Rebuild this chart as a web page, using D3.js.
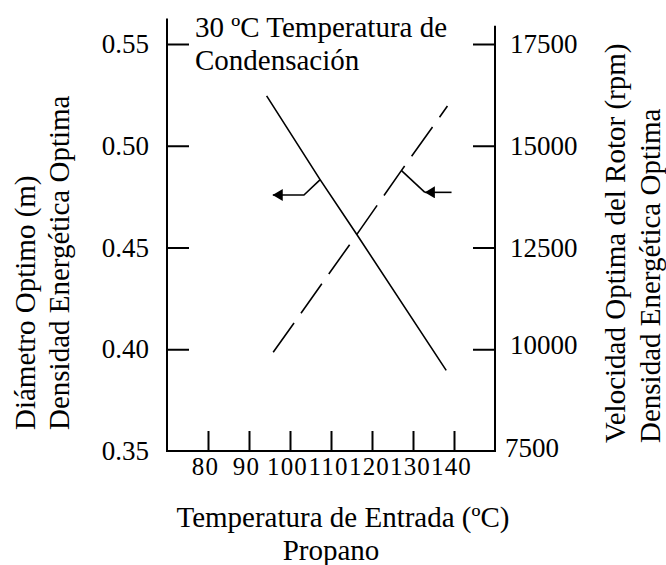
<!DOCTYPE html>
<html>
<head>
<meta charset="utf-8">
<script src="https://cdn.jsdelivr.net/npm/d3@7"></script>
<style>
  html, body { margin: 0; padding: 0; background: #fff; }
  svg { display: block; }
  text { font-family: "Liberation Serif", "Times New Roman", serif; fill: #000; }
</style>
</head>
<body>
<svg id="chart" width="666" height="565"></svg>
<script>
// ---- data ----
const xTickValues = [80, 90, 100, 110, 120, 130, 140];
const leftTickValues = [0.35, 0.40, 0.45, 0.50, 0.55];
const leftTickLabels = ["0.35", "0.40", "0.45", "0.50", "0.55"];
const rightTickValues = [7500, 10000, 12500, 15000, 17500];
const rightTickLabels = ["7500", "10000", "12500", "15000", "17500"];

// Diámetro óptimo (left axis, solid)
const diameterTemp = [94.3, 107.3, 116.3, 138.1];
const diameterValues = [0.5245, 0.4835, 0.4564, 0.3896];

// Velocidad óptima del rotor (right axis, dashed)
const speedTemp = [95.9, 114.9, 127.2, 138.4];
const speedValues = [9925, 12620, 14395, 15975];

// Arrow pointers (junction, kink, end)
const leftArrowTemp = [107.3, 103.4, 95.8];
const leftArrowValues = [0.4832, 0.4758, 0.4758];
const rightArrowTemp = [127.2, 132.9, 139.4];
const rightArrowValues = [14390, 13855, 13855];

const titleLines = ["30 ºC Temperatura de", "Condensación"];
const xTitleLines = ["Temperatura de Entrada (ºC)", "Propano"];
const leftTitleLines = ["Diámetro Optimo (m)", "Densidad Energética Optima"];
const rightTitleLines = ["Velocidad Optima del Rotor (rpm)", "Densidad Energética Optima"];

// ---- layout ----
const SERIF = '"Liberation Serif", "Times New Roman", serif';
const svg = d3.select("#chart");
const plotLeft = 167, plotRight = 495, plotBottom = 451, plotTop = 44;

const x = d3.scaleLinear().domain([70, 150]).range([plotLeft, plotRight]);
const yL = d3.scaleLinear().domain([0.35, 0.55]).range([plotBottom, plotTop]);
const yR = d3.scaleLinear().domain([7500, 17500]).range([plotBottom, plotTop]);

// axis frame lines (extend above the top ticks)
svg.append("line")
  .attr("x1", x(70)).attr("x2", x(70))
  .attr("y1", yL(0.5625)).attr("y2", yL(0.35))
  .attr("stroke", "#000").attr("stroke-width", 2);
svg.append("line")
  .attr("x1", x(150)).attr("x2", x(150))
  .attr("y1", yR(17950)).attr("y2", yR(7500))
  .attr("stroke", "#000").attr("stroke-width", 2);
svg.append("line")
  .attr("x1", x(70) - 1).attr("x2", x(150) + 1)
  .attr("y1", yL(0.35)).attr("y2", yL(0.35))
  .attr("stroke", "#000").attr("stroke-width", 2);

// left axis
const gL = svg.append("g").attr("transform", `translate(${plotLeft},0)`)
  .call(d3.axisLeft(yL).tickValues(leftTickValues)
    .tickFormat((d, i) => leftTickLabels[i])
    .tickSizeInner(-22).tickSizeOuter(0).tickPadding(18));
gL.select(".domain").remove();
gL.selectAll(".tick").filter(d => d === 0.35).select("line").remove();
gL.selectAll("line").attr("stroke", "#000").attr("stroke-width", 2);
gL.selectAll("text").style("font-family", SERIF).style("font-size", "27px");

// right axis
const gR = svg.append("g").attr("transform", `translate(${plotRight},0)`)
  .call(d3.axisRight(yR).tickValues(rightTickValues)
    .tickFormat((d, i) => rightTickLabels[i])
    .tickSizeInner(-22).tickSizeOuter(0).tickPadding(15));
gR.select(".domain").remove();
gR.selectAll(".tick").filter(d => d === 7500).select("line").remove();
gR.selectAll(".tick").filter(d => d === 7500).select("text").attr("x", 10).attr("dy", "0.2em");
gR.selectAll(".tick").filter(d => d === 10000).select("text").attr("dy", "0.15em");
gR.selectAll("line").attr("stroke", "#000").attr("stroke-width", 2);
gR.selectAll("text").style("font-family", SERIF).style("font-size", "27px");

// bottom axis
const gX = svg.append("g").attr("transform", `translate(0,${plotBottom})`)
  .call(d3.axisBottom(x).tickValues(xTickValues).tickSizeInner(-20).tickSizeOuter(0));
gX.select(".domain").remove();
gX.selectAll("line").attr("stroke", "#000").attr("stroke-width", 2);
gX.selectAll("text")
  .style("font-family", SERIF).style("font-size", "25px").style("letter-spacing", "1.2px")
  .attr("y", 24).attr("dy", null).attr("dx", -3);

// data lines
const lineL = d3.line().x(d => x(d[0])).y(d => yL(d[1]));
const lineR = d3.line().x(d => x(d[0])).y(d => yR(d[1]));

svg.append("path")
  .datum(diameterTemp.map((t, i) => [t, diameterValues[i]]))
  .attr("d", lineL).attr("fill", "none").attr("stroke", "#000").attr("stroke-width", 1.6);

svg.append("path")
  .datum(speedTemp.map((t, i) => [t, speedValues[i]]))
  .attr("d", lineR).attr("fill", "none").attr("stroke", "#000").attr("stroke-width", 1.6)
  .attr("stroke-dasharray", "36,12");

// arrowhead marker
svg.append("defs").append("marker")
  .attr("id", "arrow").attr("markerUnits", "userSpaceOnUse")
  .attr("viewBox", "0 -6 10 12").attr("refX", 10).attr("refY", 0)
  .attr("markerWidth", 10).attr("markerHeight", 12).attr("orient", "auto")
  .append("path").attr("d", "M0,-6L10,0L0,6Z").attr("fill", "#000");

// left pointer
const lp = leftArrowTemp.map((t, i) => [t, leftArrowValues[i]]);
svg.append("path").datum(lp).attr("d", lineL)
  .attr("fill", "none").attr("stroke", "#000").attr("stroke-width", 1.6)
  .attr("marker-end", "url(#arrow)");

// right pointer
const rp = rightArrowTemp.map((t, i) => [t, rightArrowValues[i]]);
svg.append("path").datum([rp[0], rp[1]]).attr("d", lineR)
  .attr("fill", "none").attr("stroke", "#000").attr("stroke-width", 1.6);
svg.append("path").datum([rp[2], rp[1]]).attr("d", lineR)
  .attr("fill", "none").attr("stroke", "#000").attr("stroke-width", 1.6)
  .attr("marker-end", "url(#arrow)");

// in-plot title
svg.append("text").attr("x", 195).attr("y", 37).attr("font-size", 29).text(titleLines[0]);
svg.append("text").attr("x", 195).attr("y", 70).attr("font-size", 29).text(titleLines[1]);

// x title
svg.append("text").attr("x", 343).attr("y", 527).attr("text-anchor", "middle")
  .attr("font-size", 29).text(xTitleLines[0]);
svg.append("text").attr("x", 331).attr("y", 560).attr("text-anchor", "middle")
  .attr("font-size", 29).text(xTitleLines[1]);

// left y title (rotated)
[[35, leftTitleLines[0]], [69, leftTitleLines[1]]].forEach(([bx, t]) => {
  svg.append("text").attr("transform", `translate(${bx},430) rotate(-90)`)
    .attr("font-size", 29).text(t);
});
// right y title (rotated)
[[625, rightTitleLines[0]], [660, rightTitleLines[1]]].forEach(([bx, t]) => {
  svg.append("text").attr("transform", `translate(${bx},443) rotate(-90)`)
    .attr("font-size", 29).text(t);
});
</script>
</body>
</html>
